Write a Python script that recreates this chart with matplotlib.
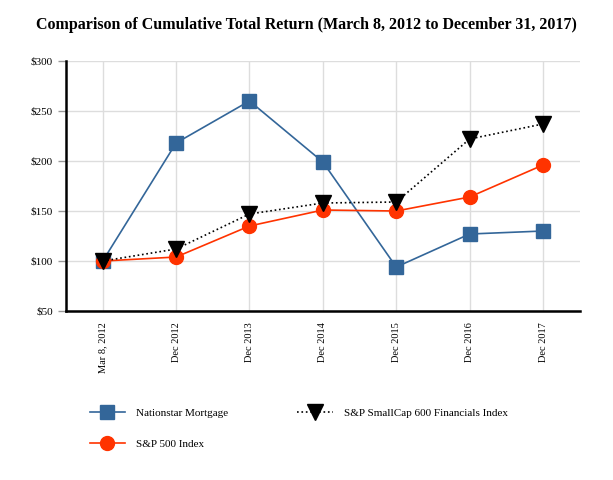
import matplotlib
matplotlib.use('Agg')
from matplotlib import pyplot as plt
import numpy as np

dates = ['Mar 8, 2012', 'Dec 2012', 'Dec 2013', 'Dec 2014', 'Dec 2015', 'Dec 2016', 'Dec 2017']
nationstar = [100, 218, 260, 199, 94, 127, 130]
sp500 = [100, 104, 135, 151, 150, 164, 196]
smallcap_fin = [100, 112, 147, 158, 159, 222, 237]

plt.rcParams['font.family'] = ['Liberation Serif', 'DejaVu Serif']

fig = plt.figure(figsize=(6.13, 4.8), dpi=100)
ax = fig.add_axes([0.1077, 0.352, 0.838, 0.521])

x = np.arange(len(dates))
l1, = ax.plot(x, nationstar, '-', color='#336699', lw=1.2, marker='s', ms=10,
              label='Nationstar Mortgage')
l2, = ax.plot(x, sp500, '-', color='#ff3300', lw=1.2, marker='o', ms=10,
              label='S&P 500 Index')
l3, = ax.plot(x, smallcap_fin, ':', color='black', lw=1.2, marker='v', ms=11,
              label='S&P SmallCap 600 Financials Index')

ax.set_xlim(-0.5, len(dates) - 0.5)
ax.set_ylim(50, 300)
ax.set_yticks(range(50, 301, 50))
ax.set_yticklabels(['$%d' % v for v in range(50, 301, 50)], fontsize=8)
ax.set_xticks(x)
ax.set_xticklabels(dates, rotation=90, fontsize=7.5)
ax.grid(True, color='#dddddd', lw=1)
ax.set_axisbelow(True)
for s in ['top', 'right']:
    ax.spines[s].set_visible(False)
ax.spines['left'].set_linewidth(1.8)
ax.spines['bottom'].set_linewidth(1.8)
ax.tick_params(axis='y', length=6, width=1, color='#999999')
ax.tick_params(axis='x', length=0, pad=8)

fig.suptitle('Comparison of Cumulative Total Return (March 8, 2012 to December 31, 2017)',
             fontsize=11.5, fontweight='bold', y=0.965)

fig.legend(handles=[l1, l2, l3], loc='upper left', bbox_to_anchor=(0.13, 0.17),
           ncol=2, frameon=False, fontsize=8, handlelength=3.2, handletextpad=1.0,
           columnspacing=6.2, labelspacing=1.9, bbox_transform=fig.transFigure)

plt.savefig('out.png', dpi=100)
